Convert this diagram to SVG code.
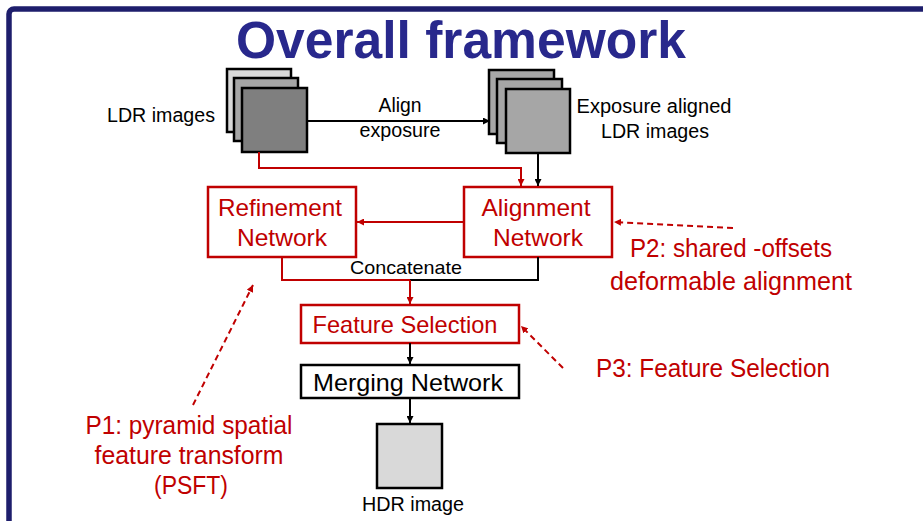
<svg xmlns="http://www.w3.org/2000/svg" width="923" height="521" viewBox="0 0 923 521">
<defs>
<marker id="ab" viewBox="0 0 10 10" refX="10" refY="5" markerWidth="7" markerHeight="7" markerUnits="userSpaceOnUse" orient="auto"><path d="M0,0 L10,5 L0,10 z" fill="#000"/></marker>
<marker id="ar" viewBox="0 0 10 10" refX="10" refY="5" markerWidth="7" markerHeight="7" markerUnits="userSpaceOnUse" orient="auto"><path d="M0,0 L10,5 L0,10 z" fill="#c00000"/></marker>
</defs>
<style>
text{font-family:"Liberation Sans",Arial,sans-serif;}
.t{font-size:20px;fill:#000;text-anchor:middle;}
.r{font-size:24px;fill:#c00000;text-anchor:middle;}
.n{font-size:25px;fill:#c00000;text-anchor:middle;}
.img{stroke:#000;stroke-width:2.5;}
.rbox{fill:#fff;stroke:#c00000;stroke-width:2.5;}
.bbox{fill:#fff;stroke:#000;stroke-width:2.5;}
.lb{fill:none;stroke:#000;stroke-width:2;}
.lr{fill:none;stroke:#c00000;stroke-width:2;}
.dr{fill:none;stroke:#c00000;stroke-width:2;stroke-dasharray:6,4;}
</style>
<rect x="0" y="0" width="923" height="521" fill="#fff"/>
<rect x="9" y="9" width="960" height="600" rx="5" fill="none" stroke="#1e1e6c" stroke-width="5.5"/>
<text x="461" y="58" text-anchor="middle" font-size="51" font-weight="bold" fill="#28288c" textLength="450" lengthAdjust="spacingAndGlyphs">Overall framework</text>

<g id="ldr">
<rect class="img" x="227" y="69" width="64" height="63" fill="#d9d9d9"/>
<rect class="img" x="234" y="78" width="64" height="63" fill="#a6a6a6"/>
<rect class="img" x="242" y="88" width="65" height="64" fill="#7f7f7f"/>
<text class="t" x="161" y="122" textLength="108" lengthAdjust="spacingAndGlyphs">LDR images</text>
</g>
<g id="aligned">
<rect class="img" x="489" y="70" width="65" height="64" fill="#a6a6a6"/>
<rect class="img" x="497" y="79" width="65" height="64" fill="#a6a6a6"/>
<rect class="img" x="506" y="89" width="64" height="64" fill="#a6a6a6"/>
<text class="t" x="654" y="113" textLength="155" lengthAdjust="spacingAndGlyphs">Exposure  aligned</text>
<text class="t" x="655" y="138" textLength="108" lengthAdjust="spacingAndGlyphs">LDR images</text>
</g>
<g id="refine">
<rect class="rbox" x="208" y="187" width="148" height="70"/>
<text class="r" x="280" y="216" textLength="124" lengthAdjust="spacingAndGlyphs">Refinement</text>
<text class="r" x="282" y="246" textLength="90" lengthAdjust="spacingAndGlyphs">Network</text>
</g>
<g id="alignnet">
<rect class="rbox" x="464" y="187" width="148" height="70"/>
<text class="r" x="536" y="216" textLength="109" lengthAdjust="spacingAndGlyphs">Alignment</text>
<text class="r" x="538" y="246" textLength="90" lengthAdjust="spacingAndGlyphs">Network</text>
</g>
<g id="featsel">
<rect class="rbox" x="301" y="305" width="218" height="38"/>
<text class="r" x="405" y="333" textLength="185" lengthAdjust="spacingAndGlyphs">Feature Selection</text>
</g>
<g id="merge">
<rect class="bbox" x="301" y="365" width="218" height="33"/>
<text class="t" x="408" y="391" textLength="190" lengthAdjust="spacingAndGlyphs" style="font-size:24px">Merging Network</text>
</g>
<g id="hdr">
<rect class="img" x="377" y="424" width="65" height="64" fill="#d9d9d9"/>
<text class="t" x="413" y="511" textLength="102" lengthAdjust="spacingAndGlyphs">HDR image</text>
</g>
<g id="p1">
<text class="n" x="189" y="434" textLength="207" lengthAdjust="spacingAndGlyphs">P1: pyramid spatial</text>
<text class="n" x="189" y="464" textLength="189" lengthAdjust="spacingAndGlyphs">feature transform</text>
<text class="n" x="191" y="494" textLength="74" lengthAdjust="spacingAndGlyphs">(PSFT)</text>
</g>
<g id="p2">
<text class="n" x="731" y="257" textLength="202" lengthAdjust="spacingAndGlyphs">P2: shared -offsets</text>
<text class="n" x="731" y="290" textLength="242" lengthAdjust="spacingAndGlyphs">deformable alignment</text>
</g>
<g id="p3">
<text class="n" x="713" y="377" textLength="234" lengthAdjust="spacingAndGlyphs">P3: Feature Selection</text>
</g>

<g id="connectors">
<line class="lb" x1="307" y1="121" x2="490" y2="121" marker-end="url(#ab)"/>
<text class="t" x="400" y="112" textLength="43" lengthAdjust="spacingAndGlyphs">Align</text>
<text class="t" x="400" y="137" textLength="81" lengthAdjust="spacingAndGlyphs">exposure</text>
<polyline class="lr" points="259,152 259,168 521,168 521,186" marker-end="url(#ar)"/>
<line class="lb" x1="538" y1="153" x2="538" y2="186" marker-end="url(#ab)"/>
<line class="lr" x1="464" y1="222" x2="357" y2="222" marker-end="url(#ar)"/>
<polyline class="lr" points="282,257 282,280 410,280"/>
<polyline class="lb" points="538,257 538,280 410,280"/>
<text class="t" x="406" y="274" style="font-size:19px" textLength="112" lengthAdjust="spacingAndGlyphs">Concatenate</text>
<line class="lr" x1="410" y1="280" x2="410" y2="304" marker-end="url(#ar)"/>
<line class="lb" x1="410" y1="343" x2="410" y2="364" marker-end="url(#ab)"/>
<line class="lb" x1="410" y1="398" x2="410" y2="423" marker-end="url(#ab)"/>
<line class="dr" x1="193" y1="405" x2="253" y2="285" marker-end="url(#ar)"/>
<line class="dr" x1="733" y1="228" x2="614" y2="222" marker-end="url(#ar)"/>
<line class="dr" x1="563" y1="368" x2="521" y2="326" marker-end="url(#ar)"/>
</g>
</svg>
